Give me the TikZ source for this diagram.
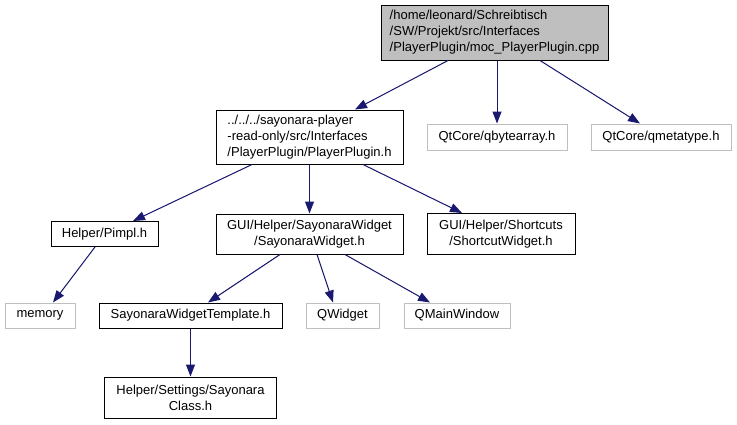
\documentclass[tikz,border=0pt]{standalone}
\usepackage{fontspec}
\setmainfont{Liberation Sans}
\usetikzlibrary{arrows.meta}
\definecolor{edgeblue}{HTML}{191970}
\definecolor{boxgray}{HTML}{BFBFBF}
\tikzset{
  box/.style={draw=black, line width=1pt, inner sep=0pt, font=\fontsize{13}{16}\selectfont, align=center},
  graybox/.style={draw=boxgray, line width=1pt, inner sep=0pt, font=\fontsize{13}{16}\selectfont, align=center},
  dep/.style={draw=edgeblue, line width=1pt, -{Triangle[length=12pt,width=9pt]}, fill=edgeblue}
}
\begin{document}
\begin{tikzpicture}[x=1pt,y=-1pt]
\useasboundingbox (0,0) rectangle (737,424);
\node[box, fill=boxgray, minimum width=227, minimum height=55, align=left] (top) at (494.5,32.5)
  {/home/leonard/Schreibtisch\\/SW/Projekt/src/Interfaces\\/PlayerPlugin/moc\_PlayerPlugin.cpp};
\node[box, minimum width=187, minimum height=54, align=left] (pp) at (309.5,137)
  {../../../sayonara-player\\-read-only/src/Interfaces\\/PlayerPlugin/PlayerPlugin.h};
\node[graybox, minimum width=140, minimum height=26] (qba) at (497,137) {QtCore/qbytearray.h};
\node[graybox, minimum width=140, minimum height=26] (qmt) at (661,137) {QtCore/qmetatype.h};
\node[box, minimum width=107, minimum height=25] (pimpl) at (104.5,234) {Helper/Pimpl.h};
\node[box, minimum width=187, minimum height=40] (sw) at (309.5,234) {GUI/Helper/SayonaraWidget\\/SayonaraWidget.h};
\node[box, minimum width=148, minimum height=41] (sc) at (501,234) {GUI/Helper/Shortcuts\\/ShortcutWidget.h};
\node[graybox, minimum width=70, minimum height=25] (mem) at (40,315.5) {memory};
\node[box, minimum width=183, minimum height=25] (swt) at (190.5,315.5) {SayonaraWidgetTemplate.h};
\node[graybox, minimum width=73, minimum height=25] (qw) at (342.5,315.5) {QWidget};
\node[graybox, minimum width=106, minimum height=25] (qmw) at (457,315.5) {QMainWindow};
\node[box, minimum width=172, minimum height=41] (cls) at (190.5,397.5) {Helper/Settings/Sayonara\\Class.h};
\draw[dep] (top.south -| 448,0) -- (pp.north -| 355,0);
\draw[dep] (top.south -| qba.north) -- (qba.north);
\draw[dep] (top.south -| 540,0) -- (qmt.north -| 640,0);
\draw[dep] (pp.south -| 252,0) -- (pimpl.north -| 133,0);
\draw[dep] (pp.south -| sw.north) -- (sw.north);
\draw[dep] (pp.south -| 363,0) -- (sc.north -| 462,0);
\draw[dep] (pimpl.south -| 95,0) -- (mem.north -| 53,0);
\draw[dep] (sw.south -| 280,0) -- (swt.north -| 208,0);
\draw[dep] (sw.south -| 317,0) -- (qw.north -| 333,0);
\draw[dep] (sw.south -| 345,0) -- (qmw.north -| 430,0);
\draw[dep] (swt.south) -- (cls.north);
\end{tikzpicture}
\end{document}
